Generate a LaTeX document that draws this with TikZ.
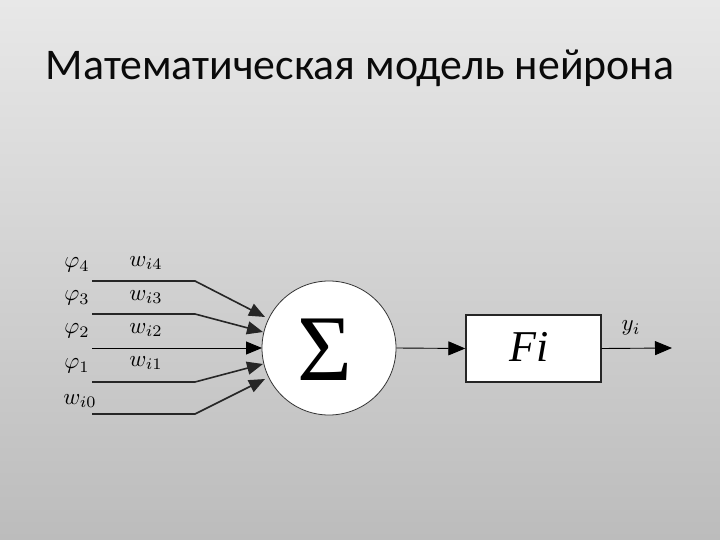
\documentclass[tikz,border=0pt]{standalone}
\usepackage{fontspec}
\newfontfamily\titlefont{Carlito}
\newfontfamily\serifx{Liberation Serif}
\usetikzlibrary{arrows.meta}
\definecolor{bgtop}{RGB}{232,232,232}
\definecolor{bgbot}{RGB}{188,188,188}
\definecolor{ink}{RGB}{10,10,10}
\newcommand{\biglab}[1]{\scalebox{2.3}{$#1$}}
\begin{document}
\begin{tikzpicture}[x=1pt,y=-1pt,
  inline/.style={draw=black!85,line width=1.6pt},
  inarrow/.style={inline,-{Triangle[length=16pt,width=13pt]}},
  lab/.style={inner sep=0pt},
  mainarrow/.style={draw=black,line width=0.9pt,-{Triangle[length=17pt,width=14pt]}}]
\shade[top color=bgtop,bottom color=bgbot] (0,0) rectangle (720,540);
\useasboundingbox (0,0) rectangle (720,540);
\node[inner sep=0pt,anchor=base,text=ink,font=\titlefont\fontsize{43.8}{48}\selectfont] (title) at (360,80) {Математическая модель нейрона};
% summation circle
\node[circle,draw=black!80,line width=0.8pt,fill=white,minimum size=134pt,inner sep=0pt] (sum) at (329,348) {};
\node[inner sep=0pt,font=\serifx\fontsize{94}{94}\selectfont] (sigma) at (325,350) {Σ};
% activation box
\node[draw=black!85,line width=1.4pt,fill=white,minimum width=135pt,minimum height=67pt,inner sep=0pt] (box) at (533.5,348.5) {};
\node[inner sep=0pt,font=\serifx\itshape\fontsize{44}{44}\selectfont] (fi) at (529,347) {Fi};
% inputs
\coordinate (s1) at (92,281); \coordinate (b1) at (195,281); \coordinate (t1) at (265,317);
\coordinate (s2) at (92,314); \coordinate (b2) at (195,314); \coordinate (t2) at (263,332);
\coordinate (s3) at (92,348); \coordinate (t3) at (262,348);
\coordinate (s4) at (92,382); \coordinate (b4) at (195,382); \coordinate (t4) at (263,364);
\coordinate (s5) at (92,414); \coordinate (b5) at (195,414); \coordinate (t5) at (265,379);
\draw[inarrow] (s1) -- (b1) -- (t1);
\draw[inarrow] (s2) -- (b2) -- (t2);
\draw[inarrow,line width=1pt,draw=black] (s3) -- (t3);
\draw[inarrow] (s4) -- (b4) -- (t4);
\draw[inarrow] (s5) -- (b5) -- (t5);
% labels
\node[lab] (p4) at (77,265) {\biglab{\varphi_4}};
\node[lab] (p3) at (77,298) {\biglab{\varphi_3}};
\node[lab] (p2) at (77,331) {\biglab{\varphi_2}};
\node[lab] (p1) at (77,366) {\biglab{\varphi_1}};
\node[lab] (w0) at (80,401) {\biglab{w_{i0}}};
\node[lab] (w4) at (146,263) {\biglab{w_{i4}}};
\node[lab] (w3) at (146,297) {\biglab{w_{i3}}};
\node[lab] (w2) at (146,330) {\biglab{w_{i2}}};
\node[lab] (w1) at (146,363) {\biglab{w_{i1}}};
% output connectors
\draw[mainarrow] (sum.east) -- (box.west);
\coordinate (out) at (672,348);
\draw[mainarrow] (box.east) -- (out);
\node[lab] (y) at (631,328) {\biglab{y_i}};
\end{tikzpicture}
\end{document}
